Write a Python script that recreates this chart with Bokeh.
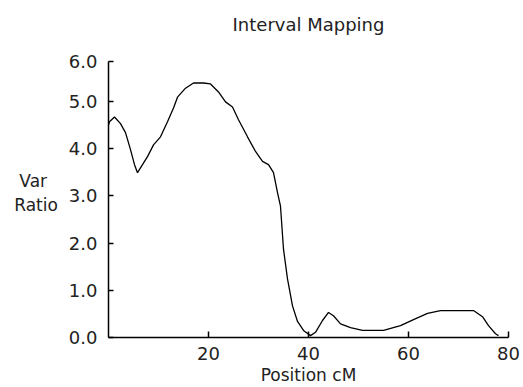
from bokeh.plotting import figure
from bokeh.models import FixedTicker, Range1d, Label
from bokeh.embed import file_html
from bokeh.resources import INLINE

# Data (Position in cM, variance ratio)
position_cm = [0.0, 0.2, 1.2, 2.4, 3.4, 4.4, 5.2, 5.8, 6.8, 7.8, 9.0, 10.4, 11.8,
               13.0, 13.8, 15.4, 17.0, 19.0, 20.4, 22.0, 23.4, 24.8, 26.0, 27.8,
               29.4, 30.8, 32.0, 33.0, 33.8, 34.4, 35.0, 35.8, 36.8, 37.8, 39.0,
               40.4, 41.4, 42.8, 44.0, 45.0, 46.4, 48.4, 50.8, 55.0, 58.4, 61.0,
               63.8, 66.4, 73.0, 74.8, 76.0, 77.4, 78.0]
var_ratio = [4.50, 4.57, 4.67, 4.53, 4.34, 3.98, 3.66, 3.49, 3.66, 3.83, 4.08, 4.25,
             4.57, 4.86, 5.09, 5.28, 5.39, 5.39, 5.37, 5.20, 4.99, 4.88, 4.61, 4.25,
             3.94, 3.73, 3.66, 3.49, 3.07, 2.78, 1.87, 1.24, 0.67, 0.34, 0.15,
             0.04, 0.11, 0.36, 0.53, 0.46, 0.29, 0.21, 0.15, 0.15, 0.25, 0.38,
             0.51, 0.57, 0.57, 0.44, 0.25, 0.08, 0.04]

x_ticks = [20, 40, 60, 80]
y_ticks = [0, 1, 2, 3, 4, 5, 5.85]
y_tick_labels = ["0.0", "1.0", "2.0", "3.0", "4.0", "5.0", "6.0"]
title_text = "Interval Mapping"
x_label = "Position cM"
y_label = "\n\nVar\u00a0\u00a0\nRatio"

FONT = "DejaVu Sans"
TXT = "#222222"

Y_AXIS_TOP = 5.85
Y_VIEW_TOP = 339 / 47.5  # extra headroom above the axis for the title

p = figure(width=523, height=387, output_backend="svg", toolbar_location=None,
           x_range=Range1d(0, 80), y_range=Range1d(0, Y_VIEW_TOP),
           min_border_left=108, min_border_right=15, min_border_top=0,
           min_border_bottom=48)
p.outline_line_color = None
p.grid.visible = False
p.background_fill_color = "white"
p.border_fill_color = "white"

p.add_layout(Label(x=40, y=Y_VIEW_TOP, x_units="data", y_units="data",
                   y_offset=-24, text=title_text, text_font=FONT,
                   text_font_size="18px", text_color=TXT,
                   text_align="center", text_baseline="middle"))

p.line(position_cm, var_ratio, line_color="black", line_width=1.3)

for ax in (p.xaxis[0], p.yaxis[0]):
    ax.axis_line_color = "black"
    ax.axis_line_width = 1.5
    ax.major_tick_line_color = "black"
    ax.major_tick_line_width = 1.5
    ax.major_tick_out = 0
    ax.minor_tick_line_color = None
    ax.major_label_text_font = FONT
    ax.major_label_text_font_size = "18px"
    ax.major_label_text_color = TXT
    ax.axis_label_text_font = FONT
    ax.axis_label_text_font_size = "17px"
    ax.axis_label_text_font_style = "normal"
    ax.axis_label_text_color = TXT

p.xaxis.ticker = FixedTicker(ticks=x_ticks)
p.xaxis.major_tick_in = 6
p.xaxis.major_label_standoff = 9
p.xaxis.axis_label = x_label
p.xaxis.axis_label_standoff = 2

p.yaxis.ticker = FixedTicker(ticks=y_ticks)
p.yaxis.bounds = (0, Y_AXIS_TOP)
p.yaxis.major_label_overrides = {t: s for t, s in zip(y_ticks, y_tick_labels)}
p.yaxis.major_tick_in = 5
p.yaxis.major_label_standoff = 11
p.yaxis.axis_label = y_label
p.yaxis.axis_label_standoff = 8
p.yaxis.axis_label_text_align = "center"
try:
    p.yaxis.axis_label_orientation = "horizontal"
except Exception:
    pass

open("out.html", "w").write(file_html(p, INLINE))
